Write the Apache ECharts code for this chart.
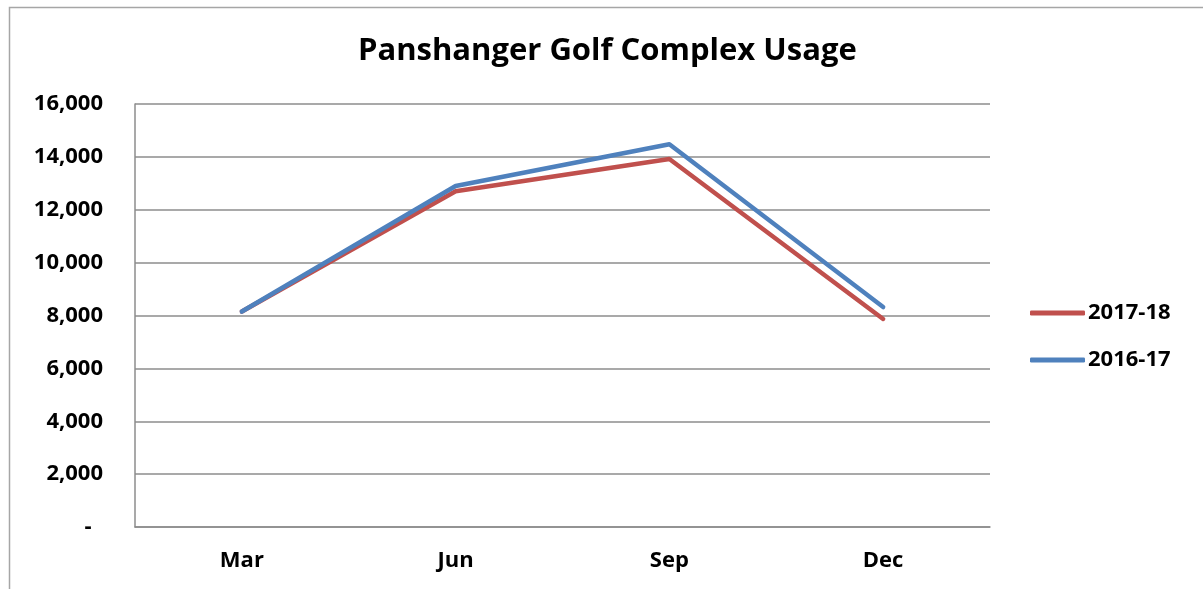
<!DOCTYPE html>
<html>
<head>
<meta charset="utf-8">
<script src="https://cdn.jsdelivr.net/npm/echarts@6/dist/echarts.min.js"></script>
<style>html,body{margin:0;padding:0;background:#fff}#c{width:1203px;height:589px}</style>
</head>
<body>
<div id="c"></div>
<script>
const categories = ['Mar', 'Jun', 'Sep', 'Dec'];
const usage2017_18 = [8150, 12700, 13920, 7870];
const usage2016_17 = [8150, 12900, 14480, 8320];
const yTicks = { min: 0, max: 16000, interval: 2000 };

const FONT = '"Open Sans", "Noto Sans", sans-serif';
const chart = echarts.init(document.getElementById('c'));
chart.setOption({
  backgroundColor: '#fff',
  animation: false,
  graphic: [{
    type: 'rect', left: 7, top: 5, silent: true,
    shape: { x: 0.5, y: 0.5, width: 1400, height: 800 },
    style: { fill: 'none', stroke: '#a6a6a6', lineWidth: 1.5 }
  }],
  title: {
    text: 'Panshanger Golf Complex Usage',
    left: 353, top: 31,
    textStyle: { fontFamily: FONT, fontWeight: 'bold', fontSize: 31, color: '#000' }
  },
  legend: {
    orient: 'vertical', left: 1030, top: 302, padding: 0,
    itemWidth: 55, itemHeight: 5, itemGap: 25,
    data: [
      { name: '2017-18', icon: 'roundRect' },
      { name: '2016-17', icon: 'roundRect' }
    ],
    textStyle: { fontFamily: FONT, fontWeight: 'bold', fontSize: 22, lineHeight: 22, color: '#000', padding: [0, 0, 0, -2] }
  },
  grid: { left: 135, right: 213, top: 104, bottom: 62 },
  xAxis: {
    type: 'category', data: categories, boundaryGap: true,
    axisLine: { lineStyle: { color: '#8c8c8c', width: 1.5 } },
    axisTick: { show: false },
    axisLabel: { margin: 23, fontFamily: FONT, fontWeight: 'bold', fontSize: 22, color: '#000' }
  },
  yAxis: {
    type: 'value', min: yTicks.min, max: yTicks.max, interval: yTicks.interval,
    axisLine: { show: true, lineStyle: { color: '#8c8c8c', width: 1.5 } },
    axisTick: { show: false },
    splitLine: { lineStyle: { color: '#8c8c8c', width: 1.5 } },
    axisLabel: {
      margin: 32, fontFamily: FONT, fontWeight: 'bold', fontSize: 22, color: '#000',
      formatter: v => v === 0 ? '-  ' : v.toLocaleString('en-US')
    }
  },
  series: [
    { name: '2017-18', type: 'line', data: usage2017_18, symbol: 'none',
      lineStyle: { color: '#C0504D', width: 4.5, cap: 'round', join: 'round' }, itemStyle: { color: '#C0504D' } },
    { name: '2016-17', type: 'line', data: usage2016_17, symbol: 'none',
      lineStyle: { color: '#4F81BD', width: 4.5, cap: 'round', join: 'round' }, itemStyle: { color: '#4F81BD' } }
  ]
});
</script>
</body>
</html>
